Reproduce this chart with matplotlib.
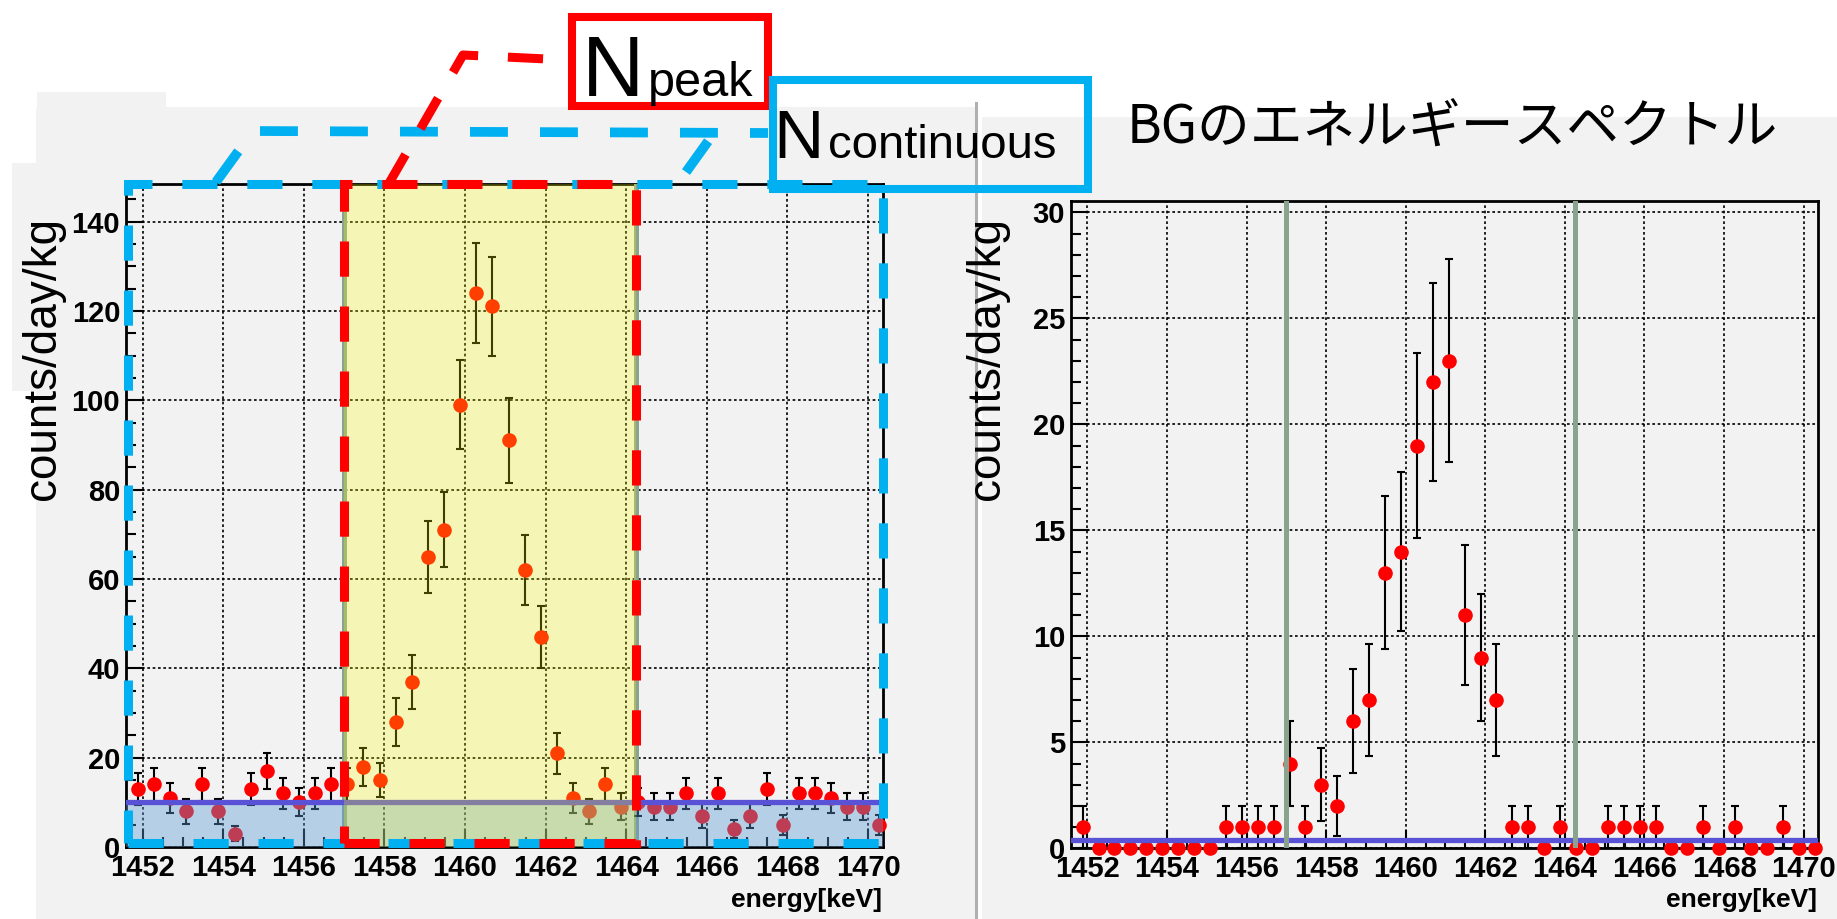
import numpy as np
import matplotlib
matplotlib.use("Agg")
import matplotlib.pyplot as plt
from matplotlib.patches import Rectangle
from matplotlib.transforms import blended_transform_factory
from matplotlib.ticker import MultipleLocator

# ---------------- data ----------------
bin_first = 1451.88          # centre of first bin [keV]
bin_width = 0.4              # keV
left_counts = [13, 14, 11, 8, 14, 8, 3, 13, 17, 12,
               10, 12, 14, 14, 18, 15, 28, 37, 65, 71,
               99, 124, 121, 91, 62, 47, 21, 11, 8, 14,
               9, 10, 9, 9, 12, 7, 12, 4, 7, 13,
               5, 12, 12, 11, 9, 9, 5]
right_counts = [1, 0, 0, 0, 0, 0, 0, 0, 0, 1,
                1, 1, 1, 4, 1, 3, 2, 6, 7, 13,
                14, 19, 22, 23, 11, 9, 7, 1, 1, 0,
                1, 0, 0, 1, 1, 1, 1, 0, 0, 1,
                0, 1, 0, 0, 1, 0, 0]
x_range = (1451.58, 1470.37)
left_ylim = (0, 148.4)
right_ylim = (0, 30.55)
peak_window = (1457.0, 1464.25)
left_bg_level = 10.0
right_bg_level = 0.4
x_ticks = [1452, 1454, 1456, 1458, 1460, 1462, 1464, 1466, 1468, 1470]
left_yticks = [0, 20, 40, 60, 80, 100, 120, 140]
right_yticks = [0, 5, 10, 15, 20, 25, 30]
ylabel_text = "counts/day/kg"
xlabel_text = "energy[keV]"
title_text = "BGのエネルギースペクトル"

energy = bin_first + bin_width * np.arange(len(left_counts))
left_counts = np.array(left_counts, dtype=float)
right_counts = np.array(right_counts, dtype=float)

# ---------------- figure ----------------
W, H, DPI = 1837, 919, 100
fig = plt.figure(figsize=(W / DPI, H / DPI), dpi=DPI, facecolor="white")

NARROW = ["Liberation Sans", "DejaVu Sans"]
BOLD = ["Liberation Sans", "DejaVu Sans"]
CJK = ["Noto Sans CJK JP", "DejaVu Sans"]
BLUE = "#00b0f0"
RED = "#ff0000"
GRAY = "#f2f2f2"


def ax_rect(l, t, r, b):
    return [l / W, 1 - b / H, (r - l) / W, (b - t) / H]


# background layer (pixel coordinates)
bg = fig.add_axes([0, 0, 1, 1], zorder=-5)
bg.set_xlim(0, W)
bg.set_ylim(H, 0)
bg.axis("off")
for (x0, y0, x1, y1) in [(36, 107, 975, 919), (37, 92, 166, 107),
                         (12, 163, 36, 391), (982, 117, W, 919)]:
    bg.add_patch(Rectangle((x0, y0), x1 - x0, y1 - y0, fc=GRAY, ec="none"))
bg.plot([975.5, 975.5], [103, 919], color="#b0b0b0", lw=2.2)

axL = fig.add_axes(ax_rect(125.7, 184, 883, 847), zorder=1)
axR = fig.add_axes(ax_rect(1070.7, 200.7, 1818.3, 848.3), zorder=1)


def style(ax, ylim, yticks, yminor):
    ax.set_facecolor("none")
    ax.set_xlim(*x_range)
    ax.set_ylim(*ylim)
    ax.set_xticks(x_ticks, labels=[str(v) for v in x_ticks],
                  fontweight="bold", family=BOLD, fontsize=21)
    ax.set_yticks(yticks, labels=[str(v) for v in yticks],
                  fontweight="bold", family=BOLD, fontsize=21)
    ax.xaxis.set_minor_locator(MultipleLocator(0.5))
    ax.yaxis.set_minor_locator(MultipleLocator(yminor))
    ax.tick_params(which="both", direction="in", width=1.5, color="black",
                   top=False, right=False)
    ax.tick_params(which="major", length=13)
    ax.tick_params(which="minor", length=7)
    ax.tick_params(axis="x", pad=5)
    ax.tick_params(axis="y", pad=4)
    ax.grid(True, which="major", color="black", linestyle=(0, (1.6, 1.6)),
            linewidth=1.2)
    ax.set_axisbelow(True)
    for s in ax.spines.values():
        s.set_linewidth(2.0)
        s.set_color("black")


style(axL, left_ylim, left_yticks, 5)
style(axR, right_ylim, right_yticks, 1)

# ---- left panel ----
axL.errorbar(energy, left_counts, yerr=np.sqrt(left_counts), fmt="none",
             ecolor="black", elinewidth=1.5, capsize=3, capthick=1.5,
             zorder=3, clip_on=False)
axL.plot(energy, left_counts, "o", color=RED, ms=10.5, mec="none", zorder=3.2,
         clip_on=False)
for xv in peak_window:
    axL.axvline(xv, color="#8aa38f", lw=3.6, zorder=2.8)
axL.axhspan(0, left_bg_level, color="#5b9bd5", alpha=0.4, lw=0, zorder=4)
axL.axhline(left_bg_level, color="#5a52d6", lw=3.8, zorder=5)
axL.axvspan(peak_window[0], peak_window[1], color="#ffff00", alpha=0.25,
            lw=0, zorder=6)

# ---- right panel ----
mask = right_counts > 0
axR.errorbar(energy[mask], right_counts[mask], yerr=np.sqrt(right_counts[mask]),
             fmt="none", ecolor="black", elinewidth=1.5, capsize=3,
             capthick=1.5, zorder=3, clip_on=False)
axR.plot(energy, right_counts, "o", color=RED, ms=10.5, mec="none", zorder=3.2,
         clip_on=False)
axR.axhline(right_bg_level, color="#5a52d6", lw=3.8, zorder=3.5)
for xv in peak_window:
    axR.axvline(xv, color="#8aa38f", lw=3.6, zorder=4)

# ---- dashed selection rectangles on the left panel ----
DASH = (0, (3.9, 3.3))
axL.add_patch(Rectangle((0.003, 0.006), 0.9966, 0.994, transform=axL.transAxes,
                        fill=False, ec=BLUE, lw=6.5, ls=DASH, clip_on=False,
                        zorder=10, capstyle="butt"))
tr = blended_transform_factory(axL.transData, axL.transAxes)
axL.add_patch(Rectangle((peak_window[0], 0.006), peak_window[1] - peak_window[0],
                        0.994, transform=tr, fill=False, ec=RED, lw=6.5,
                        ls=DASH, clip_on=False, zorder=11, capstyle="butt"))

# ---------------- annotation overlay (pixel coordinates) ----------------
ov = fig.add_axes([0, 0, 1, 1], zorder=20)
ov.set_xlim(0, W)
ov.set_ylim(H, 0)
ov.axis("off")
ov.patch.set_visible(False)

ov.plot([216, 253, 768], [182, 131, 133], color=BLUE, lw=7, ls=DASH,
        dash_capstyle="butt", solid_joinstyle="miter")
ov.plot([686, 714], [172, 133], color=BLUE, lw=7, ls=DASH,
        dash_capstyle="butt")
ov.plot([388, 463, 568], [185, 55, 60], color=RED, lw=6.5, ls=DASH,
        dash_capstyle="butt", solid_joinstyle="miter")

ov.add_patch(Rectangle((572, 16.5), 196, 89.5, fill=False, ec=RED, lw=5.8,
                       joinstyle="miter"))
ov.add_patch(Rectangle((772.5, 80), 315.5, 109, fill=False, ec=BLUE, lw=5.8,
                       joinstyle="miter"))

ov.text(582, 96, "N", fontsize=62, family=NARROW, ha="left", va="baseline")
ov.text(648, 96, "peak", fontsize=35, family=NARROW, ha="left", va="baseline")
ov.text(773, 158, "N", fontsize=50, family=NARROW, ha="left", va="baseline")
ov.text(828, 158, "continuous", fontsize=34, family=NARROW, ha="left",
        va="baseline")

ov.text(1452, 128, title_text, fontsize=38, family=CJK, ha="center",
        va="center")

ov.text(43, 358, ylabel_text, fontsize=33, family=NARROW, rotation=90,
        ha="center", va="center")
ov.text(987, 358, ylabel_text, fontsize=33, family=NARROW, rotation=90,
        ha="center", va="center")

ov.text(882, 900, xlabel_text, fontsize=19, fontweight="bold", family=BOLD,
        ha="right", va="center")
ov.text(1817, 900, xlabel_text, fontsize=19, fontweight="bold", family=BOLD,
        ha="right", va="center")

fig.savefig("out.png", dpi=DPI, facecolor="white")
